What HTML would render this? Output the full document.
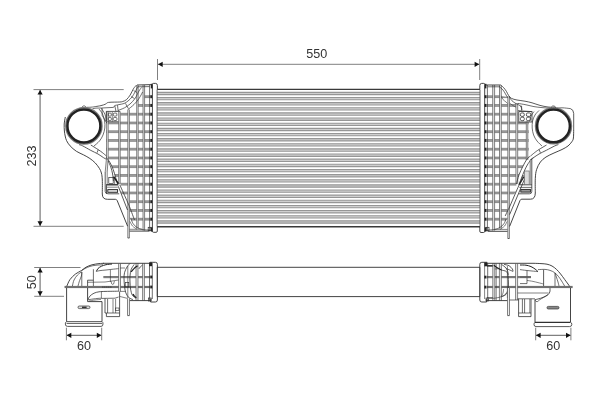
<!DOCTYPE html>
<html><head><meta charset="utf-8"><title>Intercooler drawing</title>
<style>
html,body{margin:0;padding:0;background:#fff;}
body{width:600px;height:400px;overflow:hidden;font-family:"Liberation Sans",sans-serif;}
svg{display:block;will-change:transform;}
.t{font-family:"Liberation Sans",sans-serif;font-size:12.6px;fill:#333;}
</style></head><body>
<svg width="600" height="400" viewBox="0 0 600 400">
<defs>
<clipPath id="lt"><path d="M150.5,84 L144.2,84.5 L144.2,100 L137.8,100 L137.8,108.8 L129.6,108.8 L129.6,111.4 L120.4,111.4 L120.4,121.4 L106.3,121.4 L106.3,157.5 L110,162.5 L113.2,169.5 L115.5,177 L117.5,184 L120.6,184 L121.4,194 L129.6,198 L129.6,218 L133,223.5 L137,227.5 L143,229.6 L150.5,230 Z"/></clipPath>
<clipPath id="rt"><path d="M486.5,84 L501.5,85 L501.5,96 L509.6,97.2 L512,100.8 L516,103.6 L518,110.6 L518,122 L528.6,122 L528.6,158 L526.5,159.8 L522.8,166.5 L519,174.8 L516.4,184 L516.2,191.5 L512.4,196 L507.5,198 L507.5,219 L504,223.6 L500,227.5 L494,229.6 L486.5,230 Z"/></clipPath>
</defs>
<rect width="600" height="400" fill="#fff"/>
<line x1="157.5" y1="59" x2="157.5" y2="80" stroke="#808080" stroke-width="1" />
<line x1="479.7" y1="59" x2="479.7" y2="80" stroke="#808080" stroke-width="1" />
<line x1="158" y1="64.3" x2="479" y2="64.3" stroke="#808080" stroke-width="1" />
<polygon points="158,64.3 162.7,61.7 162.7,66.9" fill="#111"/>
<polygon points="479.3,64.3 474.6,61.7 474.6,66.9" fill="#111"/>
<text x="316.8" y="57.8" text-anchor="middle" class="t">550</text>
<line x1="33.5" y1="89.6" x2="123.7" y2="89.6" stroke="#808080" stroke-width="1" />
<line x1="33.5" y1="226.3" x2="123.7" y2="226.3" stroke="#808080" stroke-width="1" />
<line x1="40.1" y1="90" x2="40.1" y2="226" stroke="#8a8a8a" stroke-width="1.4" />
<polygon points="40.1,89.9 37.5,94.6 42.7,94.6" fill="#111"/>
<polygon points="40.1,226 37.5,221.3 42.7,221.3" fill="#111"/>
<text transform="translate(35.7,155.9) rotate(-90)" text-anchor="middle" class="t">233</text>
<line x1="34.2" y1="267.5" x2="80.5" y2="267.5" stroke="#808080" stroke-width="1" />
<line x1="34.2" y1="296.3" x2="64" y2="296.3" stroke="#808080" stroke-width="1" />
<line x1="40.1" y1="268" x2="40.1" y2="296" stroke="#8a8a8a" stroke-width="1.4" />
<polygon points="40.1,267.8 37.5,272.5 42.7,272.5" fill="#111"/>
<polygon points="40.1,296 37.5,291.3 42.7,291.3" fill="#111"/>
<text transform="translate(35.8,282.2) rotate(-90)" text-anchor="middle" class="t">50</text>
<line x1="66.4" y1="327.7" x2="66.4" y2="340.3" stroke="#808080" stroke-width="1" />
<line x1="101.7" y1="327.7" x2="101.7" y2="340.3" stroke="#808080" stroke-width="1" />
<line x1="67" y1="335.3" x2="101" y2="335.3" stroke="#808080" stroke-width="1.2" />
<polygon points="66.6,335.3 71.3,332.7 71.3,337.9" fill="#111"/>
<polygon points="101.5,335.3 96.8,332.7 96.8,337.9" fill="#111"/>
<text x="83.9" y="349.6" text-anchor="middle" class="t">60</text>
<line x1="535.7" y1="327.7" x2="535.7" y2="340.3" stroke="#808080" stroke-width="1" />
<line x1="570.9" y1="327.7" x2="570.9" y2="340.3" stroke="#808080" stroke-width="1" />
<line x1="536" y1="335.3" x2="570.5" y2="335.3" stroke="#808080" stroke-width="1.2" />
<polygon points="535.9,335.3 540.6,332.7 540.6,337.9" fill="#111"/>
<polygon points="570.7,335.3 566,332.7 566,337.9" fill="#111"/>
<text x="553.2" y="349.6" text-anchor="middle" class="t">60</text>
<rect x="157.1" y="92.35" width="322.9" height="2.3" fill="#cfcfcf"/>
<line x1="157.1" y1="92.35" x2="480" y2="92.35" stroke="#969696" stroke-width="1.1" />
<line x1="157.1" y1="94.65" x2="480" y2="94.65" stroke="#969696" stroke-width="1.1" />
<rect x="157.1" y="97.49" width="322.9" height="2.3" fill="#cfcfcf"/>
<line x1="157.1" y1="97.49" x2="480" y2="97.49" stroke="#969696" stroke-width="1.1" />
<line x1="157.1" y1="99.79" x2="480" y2="99.79" stroke="#969696" stroke-width="1.1" />
<rect x="157.1" y="102.63" width="322.9" height="2.3" fill="#cfcfcf"/>
<line x1="157.1" y1="102.63" x2="480" y2="102.63" stroke="#969696" stroke-width="1.1" />
<line x1="157.1" y1="104.93" x2="480" y2="104.93" stroke="#969696" stroke-width="1.1" />
<rect x="157.1" y="107.77" width="322.9" height="2.3" fill="#cfcfcf"/>
<line x1="157.1" y1="107.77" x2="480" y2="107.77" stroke="#969696" stroke-width="1.1" />
<line x1="157.1" y1="110.07" x2="480" y2="110.07" stroke="#969696" stroke-width="1.1" />
<rect x="157.1" y="112.91" width="322.9" height="2.3" fill="#cfcfcf"/>
<line x1="157.1" y1="112.91" x2="480" y2="112.91" stroke="#969696" stroke-width="1.1" />
<line x1="157.1" y1="115.21" x2="480" y2="115.21" stroke="#969696" stroke-width="1.1" />
<rect x="157.1" y="118.05" width="322.9" height="2.3" fill="#cfcfcf"/>
<line x1="157.1" y1="118.05" x2="480" y2="118.05" stroke="#969696" stroke-width="1.1" />
<line x1="157.1" y1="120.35" x2="480" y2="120.35" stroke="#969696" stroke-width="1.1" />
<rect x="157.1" y="123.19" width="322.9" height="2.3" fill="#cfcfcf"/>
<line x1="157.1" y1="123.19" x2="480" y2="123.19" stroke="#969696" stroke-width="1.1" />
<line x1="157.1" y1="125.49" x2="480" y2="125.49" stroke="#969696" stroke-width="1.1" />
<rect x="157.1" y="128.33" width="322.9" height="2.3" fill="#cfcfcf"/>
<line x1="157.1" y1="128.33" x2="480" y2="128.33" stroke="#969696" stroke-width="1.1" />
<line x1="157.1" y1="130.63" x2="480" y2="130.63" stroke="#969696" stroke-width="1.1" />
<rect x="157.1" y="133.47" width="322.9" height="2.3" fill="#cfcfcf"/>
<line x1="157.1" y1="133.47" x2="480" y2="133.47" stroke="#969696" stroke-width="1.1" />
<line x1="157.1" y1="135.77" x2="480" y2="135.77" stroke="#969696" stroke-width="1.1" />
<rect x="157.1" y="138.61" width="322.9" height="2.3" fill="#cfcfcf"/>
<line x1="157.1" y1="138.61" x2="480" y2="138.61" stroke="#969696" stroke-width="1.1" />
<line x1="157.1" y1="140.91" x2="480" y2="140.91" stroke="#969696" stroke-width="1.1" />
<rect x="157.1" y="143.75" width="322.9" height="2.3" fill="#cfcfcf"/>
<line x1="157.1" y1="143.75" x2="480" y2="143.75" stroke="#969696" stroke-width="1.1" />
<line x1="157.1" y1="146.05" x2="480" y2="146.05" stroke="#969696" stroke-width="1.1" />
<rect x="157.1" y="148.89" width="322.9" height="2.3" fill="#cfcfcf"/>
<line x1="157.1" y1="148.89" x2="480" y2="148.89" stroke="#969696" stroke-width="1.1" />
<line x1="157.1" y1="151.19" x2="480" y2="151.19" stroke="#969696" stroke-width="1.1" />
<rect x="157.1" y="154.03" width="322.9" height="2.3" fill="#cfcfcf"/>
<line x1="157.1" y1="154.03" x2="480" y2="154.03" stroke="#969696" stroke-width="1.1" />
<line x1="157.1" y1="156.33" x2="480" y2="156.33" stroke="#969696" stroke-width="1.1" />
<rect x="157.1" y="159.17" width="322.9" height="2.3" fill="#cfcfcf"/>
<line x1="157.1" y1="159.17" x2="480" y2="159.17" stroke="#969696" stroke-width="1.1" />
<line x1="157.1" y1="161.47" x2="480" y2="161.47" stroke="#969696" stroke-width="1.1" />
<rect x="157.1" y="164.31" width="322.9" height="2.3" fill="#cfcfcf"/>
<line x1="157.1" y1="164.31" x2="480" y2="164.31" stroke="#969696" stroke-width="1.1" />
<line x1="157.1" y1="166.61" x2="480" y2="166.61" stroke="#969696" stroke-width="1.1" />
<rect x="157.1" y="169.45" width="322.9" height="2.3" fill="#cfcfcf"/>
<line x1="157.1" y1="169.45" x2="480" y2="169.45" stroke="#969696" stroke-width="1.1" />
<line x1="157.1" y1="171.75" x2="480" y2="171.75" stroke="#969696" stroke-width="1.1" />
<rect x="157.1" y="174.59" width="322.9" height="2.3" fill="#cfcfcf"/>
<line x1="157.1" y1="174.59" x2="480" y2="174.59" stroke="#969696" stroke-width="1.1" />
<line x1="157.1" y1="176.89" x2="480" y2="176.89" stroke="#969696" stroke-width="1.1" />
<rect x="157.1" y="179.73" width="322.9" height="2.3" fill="#cfcfcf"/>
<line x1="157.1" y1="179.73" x2="480" y2="179.73" stroke="#969696" stroke-width="1.1" />
<line x1="157.1" y1="182.03" x2="480" y2="182.03" stroke="#969696" stroke-width="1.1" />
<rect x="157.1" y="184.87" width="322.9" height="2.3" fill="#cfcfcf"/>
<line x1="157.1" y1="184.87" x2="480" y2="184.87" stroke="#969696" stroke-width="1.1" />
<line x1="157.1" y1="187.17" x2="480" y2="187.17" stroke="#969696" stroke-width="1.1" />
<rect x="157.1" y="190.01" width="322.9" height="2.3" fill="#cfcfcf"/>
<line x1="157.1" y1="190.01" x2="480" y2="190.01" stroke="#969696" stroke-width="1.1" />
<line x1="157.1" y1="192.31" x2="480" y2="192.31" stroke="#969696" stroke-width="1.1" />
<rect x="157.1" y="195.15" width="322.9" height="2.3" fill="#cfcfcf"/>
<line x1="157.1" y1="195.15" x2="480" y2="195.15" stroke="#969696" stroke-width="1.1" />
<line x1="157.1" y1="197.45" x2="480" y2="197.45" stroke="#969696" stroke-width="1.1" />
<rect x="157.1" y="200.29" width="322.9" height="2.3" fill="#cfcfcf"/>
<line x1="157.1" y1="200.29" x2="480" y2="200.29" stroke="#969696" stroke-width="1.1" />
<line x1="157.1" y1="202.59" x2="480" y2="202.59" stroke="#969696" stroke-width="1.1" />
<rect x="157.1" y="205.43" width="322.9" height="2.3" fill="#cfcfcf"/>
<line x1="157.1" y1="205.43" x2="480" y2="205.43" stroke="#969696" stroke-width="1.1" />
<line x1="157.1" y1="207.73" x2="480" y2="207.73" stroke="#969696" stroke-width="1.1" />
<rect x="157.1" y="210.57" width="322.9" height="2.3" fill="#cfcfcf"/>
<line x1="157.1" y1="210.57" x2="480" y2="210.57" stroke="#969696" stroke-width="1.1" />
<line x1="157.1" y1="212.87" x2="480" y2="212.87" stroke="#969696" stroke-width="1.1" />
<rect x="157.1" y="215.71" width="322.9" height="2.3" fill="#cfcfcf"/>
<line x1="157.1" y1="215.71" x2="480" y2="215.71" stroke="#969696" stroke-width="1.1" />
<line x1="157.1" y1="218.01" x2="480" y2="218.01" stroke="#969696" stroke-width="1.1" />
<rect x="157.1" y="220.85" width="322.9" height="2.3" fill="#cfcfcf"/>
<line x1="157.1" y1="220.85" x2="480" y2="220.85" stroke="#969696" stroke-width="1.1" />
<line x1="157.1" y1="223.15" x2="480" y2="223.15" stroke="#969696" stroke-width="1.1" />
<line x1="157.1" y1="89.4" x2="480" y2="89.4" stroke="#3a3a3a" stroke-width="1.3" />
<line x1="157.1" y1="226.8" x2="480" y2="226.8" stroke="#3a3a3a" stroke-width="1.5" />
<line x1="157.1" y1="89.4" x2="157.1" y2="226.6" stroke="#555" stroke-width="0.9" />
<line x1="480" y1="89.4" x2="480" y2="226.6" stroke="#555" stroke-width="0.9" />
<path d="M152.4,84.2 Q152.4,83.4 153.4,83.4 L155.6,83.4 Q157.4,83.4 157.4,85.6 L157.4,89 M152.4,84.2 L152.4,231.2 Q152.4,232.3 153.6,232.3 L156.2,232.3 Q157.3,232.3 157.3,231 L157.3,226.6" stroke="#303030" stroke-width="0.9" fill="none" />
<line x1="151.6" y1="83.8" x2="151.6" y2="88.4" stroke="#222" stroke-width="1.6" />
<line x1="151.6" y1="227.2" x2="151.6" y2="231.6" stroke="#222" stroke-width="1.6" />
<g clip-path="url(#lt)">
<rect x="104" y="95.8" width="46.5" height="1.8" fill="#a4a4a4" stroke="none"/>
<line x1="104" y1="95.8" x2="150.5" y2="95.8" stroke="#707070" stroke-width="0.7" />
<line x1="104" y1="97.6" x2="150.5" y2="97.6" stroke="#707070" stroke-width="0.7" />
<rect x="104" y="104.55" width="46.5" height="1.8" fill="#a4a4a4" stroke="none"/>
<line x1="104" y1="104.55" x2="150.5" y2="104.55" stroke="#707070" stroke-width="0.7" />
<line x1="104" y1="106.35" x2="150.5" y2="106.35" stroke="#707070" stroke-width="0.7" />
<rect x="104" y="113.3" width="46.5" height="1.8" fill="#a4a4a4" stroke="none"/>
<line x1="104" y1="113.3" x2="150.5" y2="113.3" stroke="#707070" stroke-width="0.7" />
<line x1="104" y1="115.1" x2="150.5" y2="115.1" stroke="#707070" stroke-width="0.7" />
<rect x="104" y="122.05" width="46.5" height="1.8" fill="#a4a4a4" stroke="none"/>
<line x1="104" y1="122.05" x2="150.5" y2="122.05" stroke="#707070" stroke-width="0.7" />
<line x1="104" y1="123.85" x2="150.5" y2="123.85" stroke="#707070" stroke-width="0.7" />
<rect x="104" y="130.8" width="46.5" height="1.8" fill="#a4a4a4" stroke="none"/>
<line x1="104" y1="130.8" x2="150.5" y2="130.8" stroke="#707070" stroke-width="0.7" />
<line x1="104" y1="132.6" x2="150.5" y2="132.6" stroke="#707070" stroke-width="0.7" />
<rect x="104" y="139.55" width="46.5" height="1.8" fill="#a4a4a4" stroke="none"/>
<line x1="104" y1="139.55" x2="150.5" y2="139.55" stroke="#707070" stroke-width="0.7" />
<line x1="104" y1="141.35" x2="150.5" y2="141.35" stroke="#707070" stroke-width="0.7" />
<rect x="104" y="148.3" width="46.5" height="1.8" fill="#a4a4a4" stroke="none"/>
<line x1="104" y1="148.3" x2="150.5" y2="148.3" stroke="#707070" stroke-width="0.7" />
<line x1="104" y1="150.1" x2="150.5" y2="150.1" stroke="#707070" stroke-width="0.7" />
<rect x="104" y="157.05" width="46.5" height="1.8" fill="#a4a4a4" stroke="none"/>
<line x1="104" y1="157.05" x2="150.5" y2="157.05" stroke="#707070" stroke-width="0.7" />
<line x1="104" y1="158.85" x2="150.5" y2="158.85" stroke="#707070" stroke-width="0.7" />
<rect x="104" y="165.8" width="46.5" height="1.8" fill="#a4a4a4" stroke="none"/>
<line x1="104" y1="165.8" x2="150.5" y2="165.8" stroke="#707070" stroke-width="0.7" />
<line x1="104" y1="167.6" x2="150.5" y2="167.6" stroke="#707070" stroke-width="0.7" />
<rect x="104" y="174.55" width="46.5" height="1.8" fill="#a4a4a4" stroke="none"/>
<line x1="104" y1="174.55" x2="150.5" y2="174.55" stroke="#707070" stroke-width="0.7" />
<line x1="104" y1="176.35" x2="150.5" y2="176.35" stroke="#707070" stroke-width="0.7" />
<rect x="104" y="183.3" width="46.5" height="1.8" fill="#a4a4a4" stroke="none"/>
<line x1="104" y1="183.3" x2="150.5" y2="183.3" stroke="#707070" stroke-width="0.7" />
<line x1="104" y1="185.1" x2="150.5" y2="185.1" stroke="#707070" stroke-width="0.7" />
<rect x="104" y="192.05" width="46.5" height="1.8" fill="#a4a4a4" stroke="none"/>
<line x1="104" y1="192.05" x2="150.5" y2="192.05" stroke="#707070" stroke-width="0.7" />
<line x1="104" y1="193.85" x2="150.5" y2="193.85" stroke="#707070" stroke-width="0.7" />
<rect x="104" y="200.8" width="46.5" height="1.8" fill="#a4a4a4" stroke="none"/>
<line x1="104" y1="200.8" x2="150.5" y2="200.8" stroke="#707070" stroke-width="0.7" />
<line x1="104" y1="202.6" x2="150.5" y2="202.6" stroke="#707070" stroke-width="0.7" />
<rect x="104" y="209.55" width="46.5" height="1.8" fill="#a4a4a4" stroke="none"/>
<line x1="104" y1="209.55" x2="150.5" y2="209.55" stroke="#707070" stroke-width="0.7" />
<line x1="104" y1="211.35" x2="150.5" y2="211.35" stroke="#707070" stroke-width="0.7" />
<rect x="104" y="218.3" width="46.5" height="1.8" fill="#a4a4a4" stroke="none"/>
<line x1="104" y1="218.3" x2="150.5" y2="218.3" stroke="#707070" stroke-width="0.7" />
<line x1="104" y1="220.1" x2="150.5" y2="220.1" stroke="#707070" stroke-width="0.7" />
</g>
<rect x="150.3" y="95.2" width="1.9" height="3" fill="#222"/>
<rect x="150.3" y="103.95" width="1.9" height="3" fill="#222"/>
<rect x="150.3" y="112.7" width="1.9" height="3" fill="#222"/>
<rect x="150.3" y="121.45" width="1.9" height="3" fill="#222"/>
<rect x="150.3" y="130.2" width="1.9" height="3" fill="#222"/>
<rect x="150.3" y="138.95" width="1.9" height="3" fill="#222"/>
<rect x="150.3" y="147.7" width="1.9" height="3" fill="#222"/>
<rect x="150.3" y="156.45" width="1.9" height="3" fill="#222"/>
<rect x="150.3" y="165.2" width="1.9" height="3" fill="#222"/>
<rect x="150.3" y="173.95" width="1.9" height="3" fill="#222"/>
<rect x="150.3" y="182.7" width="1.9" height="3" fill="#222"/>
<rect x="150.3" y="191.45" width="1.9" height="3" fill="#222"/>
<rect x="150.3" y="200.2" width="1.9" height="3" fill="#222"/>
<rect x="150.3" y="208.95" width="1.9" height="3" fill="#222"/>
<rect x="150.3" y="217.7" width="1.9" height="3" fill="#222"/>
<line x1="149.6" y1="85" x2="149.6" y2="231" stroke="#303030" stroke-width="0.7" />
<rect x="143" y="85" width="1.6" height="145.6" fill="#ececec" stroke="none"/>
<line x1="143" y1="85" x2="143" y2="230.6" stroke="#505050" stroke-width="0.7" />
<line x1="144.6" y1="85" x2="144.6" y2="230.6" stroke="#505050" stroke-width="0.7" />
<rect x="136.7" y="85.3" width="1.5" height="143.2" fill="#ececec" stroke="none"/>
<line x1="136.7" y1="85.3" x2="136.7" y2="228.5" stroke="#505050" stroke-width="0.7" />
<line x1="138.2" y1="85.3" x2="138.2" y2="228.5" stroke="#505050" stroke-width="0.7" />
<rect x="127.8" y="109.5" width="1.6" height="128.5" fill="#ececec" stroke="none"/>
<line x1="127.8" y1="109.5" x2="127.8" y2="238" stroke="#505050" stroke-width="0.7" />
<line x1="129.4" y1="109.5" x2="129.4" y2="238" stroke="#505050" stroke-width="0.7" />
<line x1="127.8" y1="238" x2="129.4" y2="238" stroke="#303030" stroke-width="0.8" />
<rect x="118.7" y="112" width="1.5" height="71" fill="#ececec" stroke="none"/>
<line x1="118.7" y1="112" x2="118.7" y2="183" stroke="#505050" stroke-width="0.7" />
<line x1="120.2" y1="112" x2="120.2" y2="183" stroke="#505050" stroke-width="0.7" />
<path d="M106.7,112 L106.5,158 L105.2,172 L107.2,172 L108.2,158 L108.2,112 Z" fill="#ececec" stroke="none"/>
<path d="M106.7,111.4 L106.5,158 L105.2,172" stroke="#505050" stroke-width="0.7" fill="none" />
<path d="M108.2,111.4 L108.2,158 L107.2,172 L107.2,184" stroke="#505050" stroke-width="0.7" fill="none" />
<path d="M137,85 L152,84.6" stroke="#303030" stroke-width="0.9" fill="none" />
<path d="M137.5,86.8 L149.5,86.6" stroke="#303030" stroke-width="0.7" fill="none" />
<path d="M136.6,85 C136.07,85.63 134.47,87.13 133.4,88.8 C132.33,90.47 131.35,93.2 130.2,95 C129.05,96.8 127.7,98.53 126.5,99.6 C125.3,100.67 124.12,101 123,101.4 C121.88,101.8 122.2,101.83 119.8,102 C117.4,102.17 111,102.03 108.6,102.4 C106.2,102.77 106.67,103.67 105.4,104.2 C104.13,104.73 102.57,105.22 101,105.6 C99.43,105.98 96.83,106.35 96,106.5" stroke="#303030" stroke-width="0.8" fill="none" />
<path d="M138,86.5 C137.5,87.42 136,90.25 135,92 C134,93.75 133.17,95.5 132,97 C130.83,98.5 129.33,99.92 128,101 C126.67,102.08 125.5,102.9 124,103.5 C122.5,104.1 120.53,104.27 119,104.6 C117.47,104.93 115.5,105.35 114.8,105.5" stroke="#303030" stroke-width="0.7" fill="none" />
<path d="M141.5,87.5 C141.08,88.08 140.08,89.17 139,91 C137.92,92.83 136.5,96.33 135,98.5 C133.5,100.67 131.75,102.45 130,104 C128.25,105.55 126.5,106.72 124.5,107.8 C122.5,108.88 119.08,110.05 118,110.5" stroke="#303030" stroke-width="0.7" fill="none" />
<path d="M142.6,92 C142,93.08 140.43,96.42 139,98.5 C137.57,100.58 135.83,102.67 134,104.5 C132.17,106.33 129,108.67 128,109.5" stroke="#303030" stroke-width="0.7" fill="none" />
<line x1="131.2" y1="96.6" x2="134.6" y2="98.6" stroke="#303030" stroke-width="0.7" />
<line x1="125.5" y1="103.4" x2="128.3" y2="108.5" stroke="#303030" stroke-width="0.7" />
<line x1="133.5" y1="90.5" x2="137" y2="92.5" stroke="#303030" stroke-width="0.6" />
<path d="M96,106.5 C95.17,106.62 92.58,107.07 91,107.2 C89.42,107.33 87.25,107.28 86.5,107.3" stroke="#303030" stroke-width="0.7" fill="none" />
<path d="M114.8,105.5 L113.5,107.4 L101.6,108 L96,108.1 L92.5,108.6" stroke="#303030" stroke-width="0.7" fill="none" />
<path d="M106.3,121.6 L106.3,111.4 L120.4,111.4" stroke="#303030" stroke-width="0.8" fill="none" />
<path d="M102,108 L102.2,115.5 L106.8,123" stroke="#303030" stroke-width="0.7" fill="none" />
<path d="M114.8,105.8 L116,111.4" stroke="#303030" stroke-width="0.7" fill="none" />
<path d="M117.5,105.2 L118.2,111.4" stroke="#303030" stroke-width="0.7" fill="none" />
<rect x="108.3" y="113.1" width="3" height="3" stroke="#303030" stroke-width="0.7" fill="none" rx="0.9"/>
<rect x="108.3" y="117.5" width="3" height="3" stroke="#303030" stroke-width="0.7" fill="none" rx="0.9"/>
<rect x="113.3" y="113.1" width="3.6" height="3" stroke="#303030" stroke-width="0.7" fill="none" rx="0.9"/>
<rect x="113.3" y="117.5" width="3.6" height="3" stroke="#303030" stroke-width="0.7" fill="none" rx="0.9"/>
<line x1="112.3" y1="112" x2="112.3" y2="121.6" stroke="#303030" stroke-width="0.6" />
<line x1="107.4" y1="121.6" x2="118.4" y2="121.6" stroke="#303030" stroke-width="0.6" />
<circle cx="83.9" cy="125.9" r="18.1" fill="#fff" stroke="#7a7a7a" stroke-width="1.4"/>
<circle cx="83.9" cy="125.9" r="16.5" fill="#fff" stroke="#222" stroke-width="2.5"/>
<path d="M81.8,107.3 L83.2,106 L84.8,106 L86.2,107.3" stroke="#303030" stroke-width="0.7" fill="none" />
<path d="M99,109 C99.58,109.83 101.57,112 102.5,114 C103.43,116 104.22,118.67 104.6,121 C104.98,123.33 105.07,125.67 104.8,128 C104.53,130.33 103.88,132.83 103,135 C102.12,137.17 101,139.17 99.5,141 C98,142.83 94.92,145.17 94,146" stroke="#303030" stroke-width="0.7" fill="none" />
<path d="M101.3,108.3 C101.92,109.33 104.17,112.38 105,114.5 C105.83,116.62 106.08,119.92 106.3,121" stroke="#303030" stroke-width="0.7" fill="none" />
<path d="M65.3,117 C65.12,118.17 64.35,121.67 64.2,124 C64.05,126.33 64.23,129 64.4,131 C64.57,133 64.85,134.42 65.2,136 C65.55,137.58 65.68,138.85 66.5,140.5 C67.32,142.15 68.45,144.1 70.1,145.9 C71.75,147.7 74.15,149.8 76.4,151.3 C78.65,152.8 81.35,153.7 83.6,154.9 C85.85,156.1 87.95,157.15 89.9,158.5 C91.85,159.85 93.72,161.35 95.3,163 C96.88,164.65 98.38,166.73 99.4,168.4 C100.42,170.07 100.92,171.07 101.4,173 C101.88,174.93 102.15,176.5 102.3,180 C102.45,183.5 102.3,191.67 102.3,194" stroke="#303030" stroke-width="0.9" fill="none" />
<path d="M79,144.6 C79.62,144.82 80.73,144.93 82.7,145.9 C84.67,146.87 88.25,149.05 90.8,150.4 C93.35,151.75 95.9,152.8 98,154 C100.1,155.2 102.02,156.73 103.4,157.6 C104.78,158.47 105.82,158.93 106.3,159.2" stroke="#303030" stroke-width="0.8" fill="none" />
<path d="M90.8,145 C92,145.75 96.05,148.22 98,149.5 C99.95,150.78 101.12,151.63 102.5,152.7 C103.88,153.77 105.67,155.37 106.3,155.9" stroke="#303030" stroke-width="0.8" fill="none" />
<line x1="98.2" y1="149.8" x2="97" y2="152.8" stroke="#303030" stroke-width="0.7" />
<path d="M106.3,157.5 C106.92,158.33 108.85,160.5 110,162.5 C111.15,164.5 112.28,167.08 113.2,169.5 C114.12,171.92 114.78,174.58 115.5,177 C116.22,179.42 117.17,182.83 117.5,184" stroke="#303030" stroke-width="0.8" fill="none" />
<path d="M108.2,161 C108.63,162 110.07,164.83 110.8,167 C111.53,169.17 112.17,171.67 112.6,174 C113.03,176.33 113.27,179.83 113.4,181" stroke="#303030" stroke-width="0.8" fill="none" />
<path d="M102.3,194 Q102.3,199.3 107.4,199.3 L115.4,199.3 Q116.6,199.3 117.2,200.6 L127.6,226.2" stroke="#303030" stroke-width="0.9" fill="none" />
<path d="M105.2,172 L105.2,191.4 Q105.2,193.8 108,193.8 L119.2,193.8" stroke="#303030" stroke-width="0.8" fill="none" />
<path d="M119.8,184.8 C121.08,187.67 125.8,198.13 127.5,202 C129.2,205.87 128.83,205 130,208 C131.17,211 133.75,218 134.5,220" stroke="#303030" stroke-width="0.8" fill="none" />
<line x1="118.3" y1="186.3" x2="127.5" y2="210" stroke="#303030" stroke-width="0.8" />
<line x1="106.5" y1="184" x2="106.5" y2="193.6" stroke="#303030" stroke-width="0.8" />
<line x1="107" y1="184.8" x2="118.4" y2="184.8" stroke="#222" stroke-width="1.3" />
<rect x="107.8" y="189.6" width="9.8" height="2.7" stroke="#222" stroke-width="0.9" fill="#ddd" rx="0"/>
<line x1="107" y1="187.2" x2="117.8" y2="187.2" stroke="#303030" stroke-width="0.6" />
<rect x="108.8" y="177.5" width="4.4" height="6" stroke="#303030" stroke-width="0.7" fill="none" rx="0"/>
<path d="M113.6,176.6 L118.4,183.6" stroke="#1a1a1a" stroke-width="1.6" fill="none" />
<line x1="114.6" y1="178" x2="114.6" y2="184" stroke="#303030" stroke-width="0.6" />
<path d="M129.6,231.1 L149.5,231.1" stroke="#303030" stroke-width="0.9" fill="none" />
<path d="M129.6,229.3 L142,229.3" stroke="#303030" stroke-width="0.6" fill="none" />
<path d="M131,218.5 C131.33,219.33 132,222 133,223.5 C134,225 135.33,226.48 137,227.5 C138.67,228.52 140.92,229.18 143,229.6 C145.08,230.02 148.42,229.93 149.5,230" stroke="#303030" stroke-width="0.7" fill="none" />
<path d="M130,221.5 C130.42,222.25 131.33,224.7 132.5,226 C133.67,227.3 136.25,228.75 137,229.3" stroke="#303030" stroke-width="0.6" fill="none" />
<rect x="148.2" y="227.3" width="2.6" height="3.4" stroke="#303030" stroke-width="0.7" fill="none" rx="0"/>
<path d="M484.7,84.2 Q484.7,83.4 483.7,83.4 L481.6,83.4 Q479.8,83.4 479.8,85.6 L479.8,89 M484.7,84.2 L484.7,231.2 Q484.7,232.5 483.5,232.5 L480.9,232.5 Q479.8,232.5 479.8,231 L479.8,226.6" stroke="#303030" stroke-width="0.9" fill="none" />
<line x1="485.6" y1="83.8" x2="485.6" y2="88.4" stroke="#222" stroke-width="1.6" />
<line x1="485.6" y1="227.2" x2="485.6" y2="231.6" stroke="#222" stroke-width="1.6" />
<g clip-path="url(#rt)">
<rect x="486.5" y="95.8" width="47.5" height="1.8" fill="#a4a4a4" stroke="none"/>
<line x1="486.5" y1="95.8" x2="534" y2="95.8" stroke="#707070" stroke-width="0.7" />
<line x1="486.5" y1="97.6" x2="534" y2="97.6" stroke="#707070" stroke-width="0.7" />
<rect x="486.5" y="104.55" width="47.5" height="1.8" fill="#a4a4a4" stroke="none"/>
<line x1="486.5" y1="104.55" x2="534" y2="104.55" stroke="#707070" stroke-width="0.7" />
<line x1="486.5" y1="106.35" x2="534" y2="106.35" stroke="#707070" stroke-width="0.7" />
<rect x="486.5" y="113.3" width="47.5" height="1.8" fill="#a4a4a4" stroke="none"/>
<line x1="486.5" y1="113.3" x2="534" y2="113.3" stroke="#707070" stroke-width="0.7" />
<line x1="486.5" y1="115.1" x2="534" y2="115.1" stroke="#707070" stroke-width="0.7" />
<rect x="486.5" y="122.05" width="47.5" height="1.8" fill="#a4a4a4" stroke="none"/>
<line x1="486.5" y1="122.05" x2="534" y2="122.05" stroke="#707070" stroke-width="0.7" />
<line x1="486.5" y1="123.85" x2="534" y2="123.85" stroke="#707070" stroke-width="0.7" />
<rect x="486.5" y="130.8" width="47.5" height="1.8" fill="#a4a4a4" stroke="none"/>
<line x1="486.5" y1="130.8" x2="534" y2="130.8" stroke="#707070" stroke-width="0.7" />
<line x1="486.5" y1="132.6" x2="534" y2="132.6" stroke="#707070" stroke-width="0.7" />
<rect x="486.5" y="139.55" width="47.5" height="1.8" fill="#a4a4a4" stroke="none"/>
<line x1="486.5" y1="139.55" x2="534" y2="139.55" stroke="#707070" stroke-width="0.7" />
<line x1="486.5" y1="141.35" x2="534" y2="141.35" stroke="#707070" stroke-width="0.7" />
<rect x="486.5" y="148.3" width="47.5" height="1.8" fill="#a4a4a4" stroke="none"/>
<line x1="486.5" y1="148.3" x2="534" y2="148.3" stroke="#707070" stroke-width="0.7" />
<line x1="486.5" y1="150.1" x2="534" y2="150.1" stroke="#707070" stroke-width="0.7" />
<rect x="486.5" y="157.05" width="47.5" height="1.8" fill="#a4a4a4" stroke="none"/>
<line x1="486.5" y1="157.05" x2="534" y2="157.05" stroke="#707070" stroke-width="0.7" />
<line x1="486.5" y1="158.85" x2="534" y2="158.85" stroke="#707070" stroke-width="0.7" />
<rect x="486.5" y="165.8" width="47.5" height="1.8" fill="#a4a4a4" stroke="none"/>
<line x1="486.5" y1="165.8" x2="534" y2="165.8" stroke="#707070" stroke-width="0.7" />
<line x1="486.5" y1="167.6" x2="534" y2="167.6" stroke="#707070" stroke-width="0.7" />
<rect x="486.5" y="174.55" width="47.5" height="1.8" fill="#a4a4a4" stroke="none"/>
<line x1="486.5" y1="174.55" x2="534" y2="174.55" stroke="#707070" stroke-width="0.7" />
<line x1="486.5" y1="176.35" x2="534" y2="176.35" stroke="#707070" stroke-width="0.7" />
<rect x="486.5" y="183.3" width="47.5" height="1.8" fill="#a4a4a4" stroke="none"/>
<line x1="486.5" y1="183.3" x2="534" y2="183.3" stroke="#707070" stroke-width="0.7" />
<line x1="486.5" y1="185.1" x2="534" y2="185.1" stroke="#707070" stroke-width="0.7" />
<rect x="486.5" y="192.05" width="47.5" height="1.8" fill="#a4a4a4" stroke="none"/>
<line x1="486.5" y1="192.05" x2="534" y2="192.05" stroke="#707070" stroke-width="0.7" />
<line x1="486.5" y1="193.85" x2="534" y2="193.85" stroke="#707070" stroke-width="0.7" />
<rect x="486.5" y="200.8" width="47.5" height="1.8" fill="#a4a4a4" stroke="none"/>
<line x1="486.5" y1="200.8" x2="534" y2="200.8" stroke="#707070" stroke-width="0.7" />
<line x1="486.5" y1="202.6" x2="534" y2="202.6" stroke="#707070" stroke-width="0.7" />
<rect x="486.5" y="209.55" width="47.5" height="1.8" fill="#a4a4a4" stroke="none"/>
<line x1="486.5" y1="209.55" x2="534" y2="209.55" stroke="#707070" stroke-width="0.7" />
<line x1="486.5" y1="211.35" x2="534" y2="211.35" stroke="#707070" stroke-width="0.7" />
<rect x="486.5" y="218.3" width="47.5" height="1.8" fill="#a4a4a4" stroke="none"/>
<line x1="486.5" y1="218.3" x2="534" y2="218.3" stroke="#707070" stroke-width="0.7" />
<line x1="486.5" y1="220.1" x2="534" y2="220.1" stroke="#707070" stroke-width="0.7" />
</g>
<rect x="484.6" y="95.2" width="1.9" height="3" fill="#222"/>
<rect x="484.6" y="103.95" width="1.9" height="3" fill="#222"/>
<rect x="484.6" y="112.7" width="1.9" height="3" fill="#222"/>
<rect x="484.6" y="121.45" width="1.9" height="3" fill="#222"/>
<rect x="484.6" y="130.2" width="1.9" height="3" fill="#222"/>
<rect x="484.6" y="138.95" width="1.9" height="3" fill="#222"/>
<rect x="484.6" y="147.7" width="1.9" height="3" fill="#222"/>
<rect x="484.6" y="156.45" width="1.9" height="3" fill="#222"/>
<rect x="484.6" y="165.2" width="1.9" height="3" fill="#222"/>
<rect x="484.6" y="173.95" width="1.9" height="3" fill="#222"/>
<rect x="484.6" y="182.7" width="1.9" height="3" fill="#222"/>
<rect x="484.6" y="191.45" width="1.9" height="3" fill="#222"/>
<rect x="484.6" y="200.2" width="1.9" height="3" fill="#222"/>
<rect x="484.6" y="208.95" width="1.9" height="3" fill="#222"/>
<rect x="484.6" y="217.7" width="1.9" height="3" fill="#222"/>
<line x1="487.4" y1="85" x2="487.4" y2="231" stroke="#303030" stroke-width="0.7" />
<rect x="492.7" y="85" width="1.9" height="145.6" fill="#ececec" stroke="none"/>
<line x1="492.7" y1="85" x2="492.7" y2="230.6" stroke="#505050" stroke-width="0.7" />
<line x1="494.6" y1="85" x2="494.6" y2="230.6" stroke="#505050" stroke-width="0.7" />
<rect x="499.5" y="85.3" width="1.8" height="143.2" fill="#ececec" stroke="none"/>
<line x1="499.5" y1="85.3" x2="499.5" y2="228.5" stroke="#505050" stroke-width="0.7" />
<line x1="501.3" y1="85.3" x2="501.3" y2="228.5" stroke="#505050" stroke-width="0.7" />
<rect x="507.8" y="96" width="1.6" height="142.5" fill="#ececec" stroke="none"/>
<line x1="507.8" y1="96" x2="507.8" y2="238.5" stroke="#505050" stroke-width="0.7" />
<line x1="509.4" y1="96" x2="509.4" y2="238.5" stroke="#505050" stroke-width="0.7" />
<line x1="507.8" y1="238.5" x2="509.4" y2="238.5" stroke="#303030" stroke-width="0.8" />
<rect x="515.9" y="103" width="1.8" height="81" fill="#ececec" stroke="none"/>
<line x1="515.9" y1="103" x2="515.9" y2="184" stroke="#505050" stroke-width="0.7" />
<line x1="517.7" y1="103" x2="517.7" y2="184" stroke="#505050" stroke-width="0.7" />
<rect x="526.3" y="121.5" width="1.5" height="38.5" fill="#ececec" stroke="none"/>
<line x1="526.3" y1="121.5" x2="526.3" y2="160" stroke="#505050" stroke-width="0.7" />
<line x1="527.8" y1="121.5" x2="527.8" y2="160" stroke="#505050" stroke-width="0.7" />
<path d="M485,85 L500.5,85" stroke="#303030" stroke-width="0.9" fill="none" />
<path d="M487.6,86.8 L500,86.8" stroke="#303030" stroke-width="0.7" fill="none" />
<path d="M500.5,85 C501,85.42 502.5,86.42 503.5,87.5 C504.5,88.58 505.65,90.17 506.5,91.5 C507.35,92.83 507.77,94.35 508.6,95.5 C509.43,96.65 510.1,97.65 511.5,98.4 C512.9,99.15 514.75,99.53 517,100 C519.25,100.47 522.5,100.73 525,101.2 C527.5,101.67 529.5,102.1 532,102.8 C534.5,103.5 537.33,104.7 540,105.4 C542.67,106.1 545.33,106.68 548,107 C550.67,107.32 554.67,107.25 556,107.3" stroke="#303030" stroke-width="0.8" fill="none" />
<path d="M499.5,86.8 C500.08,87.33 502,88.8 503,90 C504,91.2 504.75,92.75 505.5,94 C506.25,95.25 507.17,96.92 507.5,97.5" stroke="#303030" stroke-width="0.7" fill="none" />
<path d="M509.6,97.2 C510,97.8 510.93,99.73 512,100.8 C513.07,101.87 514.58,102.73 516,103.6 C517.42,104.47 519.5,104.93 520.5,106 C521.5,107.07 521.75,109.33 522,110" stroke="#303030" stroke-width="0.7" fill="none" />
<path d="M501.5,96.6 C501.75,97.08 502.25,98.6 503,99.5 C503.75,100.4 505.25,101.33 506,102 C506.75,102.67 507.25,103.25 507.5,103.5" stroke="#303030" stroke-width="0.6" fill="none" />
<path d="M509.6,103 C510.17,103.43 511.93,104.9 513,105.6 C514.07,106.3 515.5,106.93 516,107.2" stroke="#303030" stroke-width="0.6" fill="none" />
<path d="M518,103.4 C519.33,103.63 523.33,104.27 526,104.8 C528.67,105.33 531.33,106.13 534,106.6 C536.67,107.07 539,107.33 542,107.6 C545,107.87 548.67,108.17 552,108.2 C555.33,108.23 558.93,107.73 562,107.8 C565.07,107.87 569,108.47 570.4,108.6" stroke="#303030" stroke-width="0.7" fill="none" />
<path d="M570.4,108.6 Q573.6,109.6 573.7,113.5 L573.7,130" stroke="#303030" stroke-width="0.8" fill="none" />
<path d="M520.2,106 L521.6,106 L521.6,110.6" stroke="#303030" stroke-width="0.7" fill="none" />
<path d="M518,110.6 L531.6,111.6" stroke="#303030" stroke-width="0.7" fill="none" />
<rect x="518.8" y="111.6" width="13.2" height="10.4" stroke="#303030" stroke-width="0.8" fill="none" rx="0"/>
<rect x="520.4" y="112.9" width="3.9" height="3.5" stroke="#303030" stroke-width="0.8" fill="none" rx="1.4"/>
<rect x="520.4" y="117.2" width="3.9" height="3.5" stroke="#303030" stroke-width="0.8" fill="none" rx="1.4"/>
<rect x="526.4" y="112.9" width="4.3" height="3.5" stroke="#303030" stroke-width="0.8" fill="none" rx="1.4"/>
<rect x="526.4" y="117.2" width="4.3" height="3.5" stroke="#303030" stroke-width="0.8" fill="none" rx="1.4"/>
<circle cx="553.5" cy="125.9" r="18.0" fill="#fff" stroke="#7a7a7a" stroke-width="1.4"/>
<circle cx="553.5" cy="125.9" r="16.4" fill="#fff" stroke="#222" stroke-width="2.5"/>
<path d="M551.2,107.3 L552.6,106 L554.2,106 L555.6,107.3" stroke="#303030" stroke-width="0.7" fill="none" />
<path d="M539,110.5 C538.33,111.25 536.07,113.25 535,115 C533.93,116.75 533.07,118.83 532.6,121 C532.13,123.17 532.03,125.67 532.2,128 C532.37,130.33 532.8,132.83 533.6,135 C534.4,137.17 535.6,139.17 537,141 C538.4,142.83 541.17,145.17 542,146" stroke="#303030" stroke-width="0.7" fill="none" />
<path d="M534,111.6 C533.5,112.33 531.73,114.35 531,116 C530.27,117.65 529.83,120.58 529.6,121.5" stroke="#303030" stroke-width="0.7" fill="none" />
<path d="M573.7,130 C573.65,131.33 573.68,136.08 573.4,138 C573.12,139.92 572.9,140.17 572,141.5 C571.1,142.83 569.67,144.67 568,146 C566.33,147.33 564.33,148.33 562,149.5 C559.67,150.67 556.67,151.75 554,153 C551.33,154.25 548.27,155.5 546,157 C543.73,158.5 541.97,159.92 540.4,162 C538.83,164.08 537.45,166.75 536.6,169.5 C535.75,172.25 535.52,174.58 535.3,178.5 C535.08,182.42 535.3,190.58 535.3,193" stroke="#303030" stroke-width="0.9" fill="none" />
<path d="M558.4,144.6 C557.8,144.82 556.78,144.97 554.8,145.9 C552.82,146.83 549.13,148.85 546.5,150.2 C543.87,151.55 541.15,152.77 539,154 C536.85,155.23 535.12,156.6 533.6,157.6 C532.08,158.6 530.52,159.6 529.9,160" stroke="#303030" stroke-width="0.8" fill="none" />
<path d="M546.5,145 C545.25,145.75 541,148.22 539,149.5 C537,150.78 535.9,151.62 534.5,152.7 C533.1,153.78 531.25,155.45 530.6,156" stroke="#303030" stroke-width="0.8" fill="none" />
<line x1="539.2" y1="149.8" x2="540.4" y2="152.8" stroke="#303030" stroke-width="0.7" />
<path d="M530.2,156 C529.58,156.63 527.73,158.05 526.5,159.8 C525.27,161.55 524.05,164 522.8,166.5 C521.55,169 520.07,171.88 519,174.8 C517.93,177.72 516.83,182.47 516.4,184" stroke="#303030" stroke-width="0.8" fill="none" />
<path d="M533.6,157.6 C533.17,157.97 532.05,158.57 531,159.8 C529.95,161.03 528.42,163.13 527.3,165 C526.18,166.87 525.3,168.75 524.3,171 C523.3,173.25 522.22,176.17 521.3,178.5 C520.38,180.83 519.22,183.92 518.8,185" stroke="#303030" stroke-width="0.8" fill="none" />
<rect x="530.2" y="160" width="1.6" height="24" fill="#ececec"/>
<line x1="530.2" y1="160" x2="530.2" y2="184" stroke="#505050" stroke-width="0.7" />
<line x1="531.8" y1="159" x2="531.8" y2="191.4" stroke="#303030" stroke-width="0.8" />
<path d="M535.3,193 Q535.3,199.2 530.4,199.2 L521.8,199.2 Q520.6,199.2 520,200.5 L509.6,226.4" stroke="#303030" stroke-width="0.9" fill="none" />
<path d="M531.8,191.4 Q531.8,193.8 529.4,193.8 L518.4,193.8 L509.6,214.6" stroke="#303030" stroke-width="0.8" fill="none" />
<path d="M523.4,175 C522.17,177.83 518.3,186.7 516,192 C513.7,197.3 511.02,203.63 509.6,206.8 C508.18,209.97 508.23,209.47 507.5,211 C506.77,212.53 505.58,215.17 505.2,216" stroke="#303030" stroke-width="0.8" fill="none" />
<line x1="524.8" y1="178.4" x2="518.4" y2="193.8" stroke="#303030" stroke-width="0.8" />
<rect x="520.8" y="189.4" width="9.6" height="2.7" stroke="#222" stroke-width="0.9" fill="#999" rx="0"/>
<line x1="519.4" y1="187.4" x2="531.8" y2="187.4" stroke="#303030" stroke-width="0.7" />
<line x1="519.6" y1="184.8" x2="531.8" y2="184.8" stroke="#303030" stroke-width="0.9" />
<rect x="524.6" y="171" width="4.6" height="13.6" stroke="#666" stroke-width="0.7" fill="#ddd" rx="0"/>
<path d="M524,176.6 L519.4,184.4" stroke="#222" stroke-width="1.1" fill="none" />
<path d="M487.6,231.3 L507.5,231.3" stroke="#303030" stroke-width="0.9" fill="none" />
<path d="M495,229.4 L507.5,229.4" stroke="#303030" stroke-width="0.6" fill="none" />
<path d="M506,219 C505.67,219.77 505,222.18 504,223.6 C503,225.02 501.67,226.5 500,227.5 C498.33,228.5 496.07,229.18 494,229.6 C491.93,230.02 488.67,229.93 487.6,230" stroke="#303030" stroke-width="0.7" fill="none" />
<path d="M507,221.5 C506.6,222.25 505.77,224.68 504.6,226 C503.43,227.32 500.77,228.83 500,229.4" stroke="#303030" stroke-width="0.6" fill="none" />
<rect x="486.4" y="227.3" width="2.6" height="3.4" stroke="#303030" stroke-width="0.7" fill="none" rx="0"/>
<line x1="157.1" y1="267.3" x2="480" y2="267.3" stroke="#444" stroke-width="1.0" />
<line x1="157.1" y1="296.6" x2="480" y2="296.6" stroke="#444" stroke-width="1.0" />
<line x1="157.2" y1="267.3" x2="157.2" y2="296.6" stroke="#555" stroke-width="0.9" />
<line x1="479.9" y1="267.3" x2="479.9" y2="296.6" stroke="#555" stroke-width="0.9" />
<path d="M150,262.3 L155.4,262.3 Q157.4,262.3 157.4,264.3 L157.4,300 Q157.4,302 155.4,302 L150.6,302 L150.6,298.6" stroke="#303030" stroke-width="0.9" fill="none" />
<line x1="152.3" y1="263" x2="152.3" y2="299" stroke="#303030" stroke-width="0.7" />
<rect x="149" y="262.4" width="3" height="3.8" fill="#222"/>
<rect x="150.2" y="275.6" width="2.1" height="2.8" fill="#222"/>
<rect x="150.2" y="285.6" width="2.1" height="2.8" fill="#222"/>
<rect x="148.6" y="298" width="2.6" height="3" stroke="#303030" stroke-width="0.7" fill="none" rx="0"/>
<rect x="103.4" y="276.5" width="46.8" height="1.2" fill="#999" stroke="none"/>
<line x1="103.4" y1="276.5" x2="150.2" y2="276.5" stroke="#555" stroke-width="0.7" />
<line x1="103.4" y1="277.7" x2="150.2" y2="277.7" stroke="#555" stroke-width="0.7" />
<rect x="64.6" y="286.4" width="85.6" height="1.2" fill="#999" stroke="none"/>
<line x1="64.6" y1="286.4" x2="150.2" y2="286.4" stroke="#4a4a4a" stroke-width="0.75" />
<line x1="64.6" y1="287.6" x2="150.2" y2="287.6" stroke="#4a4a4a" stroke-width="0.75" />
<line x1="149.5" y1="263.3" x2="149.5" y2="300.5" stroke="#303030" stroke-width="0.7" />
<rect x="142.6" y="263.3" width="1.8" height="37.2" fill="#ececec" stroke="none"/>
<line x1="142.6" y1="263.3" x2="142.6" y2="300.5" stroke="#505050" stroke-width="0.7" />
<line x1="144.4" y1="263.3" x2="144.4" y2="300.5" stroke="#505050" stroke-width="0.7" />
<rect x="136" y="263.3" width="2" height="37.2" fill="#ececec" stroke="none"/>
<line x1="136" y1="263.3" x2="136" y2="300.5" stroke="#505050" stroke-width="0.7" />
<line x1="138" y1="263.3" x2="138" y2="300.5" stroke="#505050" stroke-width="0.7" />
<rect x="118.6" y="263.8" width="1.9" height="27.7" fill="#ececec" stroke="none"/>
<line x1="118.6" y1="263.8" x2="118.6" y2="291.5" stroke="#505050" stroke-width="0.7" />
<line x1="120.5" y1="263.8" x2="120.5" y2="291.5" stroke="#505050" stroke-width="0.7" />
<line x1="127.8" y1="266" x2="127.8" y2="298" stroke="#303030" stroke-width="0.6" />
<line x1="103" y1="263.3" x2="150" y2="263.3" stroke="#303030" stroke-width="0.9" />
<path d="M66.8,286.2 C67.33,285.08 68.55,281.53 70,279.5 C71.45,277.47 73.58,275.5 75.5,274 C77.42,272.5 79.75,271.63 81.5,270.5 C83.25,269.37 84.25,268.15 86,267.2 C87.75,266.25 89.83,265.4 92,264.8 C94.17,264.2 97,263.85 99,263.6 C101,263.35 103.17,263.35 104,263.3" stroke="#303030" stroke-width="0.9" fill="none" />
<path d="M72.4,286 C72.67,285 73.15,281.83 74,280 C74.85,278.17 76.23,276.37 77.5,275 C78.77,273.63 80.92,272.33 81.6,271.8" stroke="#303030" stroke-width="0.7" fill="none" />
<path d="M78,286 C78.27,285.08 79.03,282.17 79.6,280.5 C80.17,278.83 81.03,277.42 81.4,276 C81.77,274.58 81.73,272.67 81.8,272" stroke="#303030" stroke-width="0.7" fill="none" />
<line x1="81.8" y1="272" x2="81.8" y2="286" stroke="#303030" stroke-width="0.7" />
<path d="M81.5,270.8 C82.08,270.42 83.58,269.23 85,268.5 C86.42,267.77 88.17,266.95 90,266.4 C91.83,265.85 93.83,265.47 96,265.2 C98.17,264.93 101.83,264.87 103,264.8" stroke="#303030" stroke-width="0.7" fill="none" />
<path d="M96.4,271.4 C96.67,270.92 97.15,269.37 98,268.5 C98.85,267.63 100.17,266.83 101.5,266.2 C102.83,265.57 104.25,265.07 106,264.7 C107.75,264.33 111,264.12 112,264" stroke="#222" stroke-width="1.0" fill="none" />
<path d="M96.4,271.4 C97,271.27 98.4,270.83 100,270.6 C101.6,270.37 104,270.22 106,270 C108,269.78 109.9,269.53 112,269.3 C114.1,269.07 117.5,268.72 118.6,268.6" stroke="#303030" stroke-width="0.7" fill="none" />
<line x1="93.4" y1="269.2" x2="93.4" y2="286" stroke="#303030" stroke-width="0.7" />
<path d="M87.6,286 L87.6,280.2 L93.4,280.2" stroke="#303030" stroke-width="0.8" fill="none" />
<path d="M87.6,282.3 L105,282 L112,281 L118.6,280" stroke="#303030" stroke-width="0.6" fill="none" />
<line x1="110.4" y1="270" x2="110.4" y2="282" stroke="#303030" stroke-width="0.6" />
<path d="M111,281.2 L111.8,284 Q112.6,285 113.6,284 L114.4,281" stroke="#303030" stroke-width="0.6" fill="none" />
<rect x="102.3" y="286.5" width="1.1" height="1.1" fill="#333"/>
<rect x="104.3" y="286.5" width="1.1" height="1.1" fill="#333"/>
<rect x="106.3" y="286.5" width="1.1" height="1.1" fill="#333"/>
<rect x="108.3" y="286.5" width="1.1" height="1.1" fill="#333"/>
<rect x="110.3" y="286.5" width="1.1" height="1.1" fill="#333"/>
<line x1="66.6" y1="288" x2="66.6" y2="321.5" stroke="#303030" stroke-width="0.9" />
<line x1="102" y1="301.6" x2="102" y2="321.5" stroke="#303030" stroke-width="0.9" />
<path d="M66.6,321.6 L102,321.6 M66.6,323.4 L102,323.4 M66.6,321.6 Q65.3,322 65.3,324 Q65.3,326.4 67.6,326.4 L101,326.4 Q103,326.4 103,324 Q103,322 102,321.6" stroke="#303030" stroke-width="0.8" fill="none" />
<rect x="78" y="306" width="12" height="2.6" stroke="#303030" stroke-width="0.7" fill="#ddd" rx="1.3"/>
<rect x="82" y="306.6" width="4.6" height="1.4" fill="#333"/>
<path d="M87.6,288 L87.6,301.6 L102,301.6" stroke="#303030" stroke-width="0.9" fill="none" />
<path d="M88,299.5 C88.33,298.92 89,297.05 90,296 C91,294.95 92.5,293.9 94,293.2 C95.5,292.5 97,292.1 99,291.8 C101,291.5 102.73,291.5 106,291.4 C109.27,291.3 116.5,291.23 118.6,291.2" stroke="#303030" stroke-width="0.8" fill="none" />
<path d="M88,299.8 C88.83,299.67 91.33,299.23 93,299 C94.67,298.77 96.5,298.53 98,298.4 C99.5,298.27 101.33,298.23 102,298.2" stroke="#303030" stroke-width="0.7" fill="none" />
<path d="M89,301 C90,300.83 93,300.27 95,300 C97,299.73 100,299.5 101,299.4" stroke="#303030" stroke-width="0.6" fill="none" />
<line x1="101.4" y1="291.6" x2="101.4" y2="298.5" stroke="#303030" stroke-width="0.6" />
<path d="M102,298.4 L115,298.2 L118.6,297" stroke="#303030" stroke-width="0.7" fill="none" />
<path d="M105,298.4 L105,313 L106.4,313 L106.4,316.6 L119.6,316.6 L119.6,291.5" stroke="#303030" stroke-width="0.8" fill="none" />
<line x1="107.6" y1="299" x2="107.6" y2="313" stroke="#303030" stroke-width="0.7" />
<line x1="106.4" y1="313" x2="119.6" y2="313" stroke="#303030" stroke-width="0.7" />
<line x1="113" y1="299" x2="113" y2="313" stroke="#303030" stroke-width="0.6" />
<line x1="115.6" y1="299" x2="115.6" y2="313" stroke="#303030" stroke-width="0.6" />
<rect x="115.6" y="308" width="3.4" height="2.6" stroke="#303030" stroke-width="0.6" fill="none" rx="0"/>
<path d="M130,263.4 C129.5,264 127.9,265.5 127,267 C126.1,268.5 125.1,270.5 124.6,272.4 C124.1,274.3 124,276 124,278.4 C124,280.8 124.3,284.4 124.6,286.8 C124.9,289.2 125.1,291 125.8,292.8 C126.5,294.6 127.6,296.47 128.8,297.6 C130,298.73 132.3,299.27 133,299.6" stroke="#303030" stroke-width="0.8" fill="none" />
<path d="M134.2,264.4 C133.7,265.23 131.9,267.47 131.2,269.4 C130.5,271.33 130.2,273.9 130,276 C129.8,278.1 129.9,279.8 130,282 C130.1,284.2 130.2,287 130.6,289.2 C131,291.4 131.5,293.7 132.4,295.2 C133.3,296.7 135.4,297.7 136,298.2" stroke="#303030" stroke-width="0.8" fill="none" />
<path d="M131.2,271.8 C131.67,271.27 132.93,269.6 134,268.6 C135.07,267.6 137,266.27 137.6,265.8" stroke="#1c1c1c" stroke-width="1.2" fill="none" />
<path d="M139,268.8 C139.23,268.47 139.83,267.4 140.4,266.8 C140.97,266.2 142.07,265.47 142.4,265.2" stroke="#303030" stroke-width="0.8" fill="none" />
<path d="M133,294 C133.23,294.37 133.83,295.57 134.4,296.2 C134.97,296.83 136.07,297.53 136.4,297.8" stroke="#1c1c1c" stroke-width="1.2" fill="none" />
<rect x="125.2" y="282.4" width="3.6" height="4.6" stroke="#303030" stroke-width="0.7" fill="none" rx="0"/>
<line x1="120.2" y1="268" x2="125" y2="268" stroke="#303030" stroke-width="0.6" />
<line x1="120.2" y1="291.4" x2="125.4" y2="291.4" stroke="#303030" stroke-width="0.6" />
<path d="M119.6,296.4 L127.5,298.4" stroke="#303030" stroke-width="0.6" fill="none" />
<line x1="129.6" y1="300.6" x2="150.4" y2="300.6" stroke="#303030" stroke-width="0.9" />
<rect x="127.5" y="298.4" width="2" height="17" fill="#ececec" stroke="none"/>
<line x1="127.5" y1="298.4" x2="127.5" y2="315.4" stroke="#505050" stroke-width="0.7" />
<line x1="129.5" y1="298.4" x2="129.5" y2="315.4" stroke="#505050" stroke-width="0.7" />
<line x1="127.5" y1="315.6" x2="129.5" y2="315.6" stroke="#303030" stroke-width="0.8" />
<path d="M487.2,262.3 L481.8,262.3 Q479.8,262.3 479.8,264.3 L479.8,300 Q479.8,302 481.8,302 L486.6,302 L486.6,298.6" stroke="#303030" stroke-width="0.9" fill="none" />
<line x1="484.6" y1="266" x2="484.6" y2="299" stroke="#303030" stroke-width="0.6" />
<rect x="484.2" y="262.4" width="3.2" height="3.9" fill="#222"/>
<rect x="484.3" y="275.7" width="2.2" height="2.8" fill="#222"/>
<rect x="484.3" y="285.7" width="2.2" height="2.8" fill="#222"/>
<line x1="487" y1="265.6" x2="493" y2="265.6" stroke="#222" stroke-width="1.0" />
<rect x="486" y="298" width="2.6" height="3" stroke="#303030" stroke-width="0.7" fill="none" rx="0"/>
<rect x="487" y="276.5" width="44" height="1.2" fill="#999" stroke="none"/>
<line x1="487" y1="276.5" x2="531" y2="276.5" stroke="#555" stroke-width="0.7" />
<line x1="487" y1="277.7" x2="531" y2="277.7" stroke="#555" stroke-width="0.7" />
<rect x="487" y="286.4" width="85.6" height="1.2" fill="#999" stroke="none"/>
<line x1="487" y1="286.4" x2="572.6" y2="286.4" stroke="#4a4a4a" stroke-width="0.75" />
<line x1="487" y1="287.6" x2="572.6" y2="287.6" stroke="#4a4a4a" stroke-width="0.75" />
<line x1="487.7" y1="263.3" x2="487.7" y2="300.5" stroke="#303030" stroke-width="0.7" />
<rect x="492.8" y="263.3" width="2" height="37.2" fill="#ececec" stroke="none"/>
<line x1="492.8" y1="263.3" x2="492.8" y2="300.5" stroke="#505050" stroke-width="0.7" />
<line x1="494.8" y1="263.3" x2="494.8" y2="300.5" stroke="#505050" stroke-width="0.7" />
<rect x="499.4" y="263.3" width="2" height="37.2" fill="#ececec" stroke="none"/>
<line x1="499.4" y1="263.3" x2="499.4" y2="300.5" stroke="#505050" stroke-width="0.7" />
<line x1="501.4" y1="263.3" x2="501.4" y2="300.5" stroke="#505050" stroke-width="0.7" />
<rect x="515.6" y="263.8" width="2" height="36.2" fill="#ececec" stroke="none"/>
<line x1="515.6" y1="263.8" x2="515.6" y2="300" stroke="#505050" stroke-width="0.7" />
<line x1="517.6" y1="263.8" x2="517.6" y2="300" stroke="#505050" stroke-width="0.7" />
<line x1="507.4" y1="266" x2="507.4" y2="298" stroke="#303030" stroke-width="0.6" />
<line x1="487" y1="263.3" x2="534" y2="263.3" stroke="#303030" stroke-width="0.9" />
<path d="M534,263.3 C535.17,263.35 538.83,263.45 541,263.6 C543.17,263.75 545.17,263.8 547,264.2 C548.83,264.6 550.42,265.13 552,266 C553.58,266.87 555.07,268.07 556.5,269.4 C557.93,270.73 559.25,272.33 560.6,274 C561.95,275.67 563.37,277.73 564.6,279.4 C565.83,281.07 567.17,282.83 568,284 C568.83,285.17 569.33,286 569.6,286.4" stroke="#303030" stroke-width="0.9" fill="none" />
<path d="M538,269.6 C539.17,269.57 543,269.27 545,269.4 C547,269.53 548.4,269.87 550,270.4 C551.6,270.93 553.2,271.6 554.6,272.6 C556,273.6 557.23,275 558.4,276.4 C559.57,277.8 560.57,279.4 561.6,281 C562.63,282.6 564.1,285.17 564.6,286" stroke="#303030" stroke-width="0.7" fill="none" />
<path d="M555,273 C555.23,273.67 555.9,275.5 556.4,277 C556.9,278.5 557.57,280.5 558,282 C558.43,283.5 558.83,285.33 559,286" stroke="#303030" stroke-width="0.7" fill="none" />
<line x1="555" y1="273" x2="555" y2="286" stroke="#303030" stroke-width="0.7" />
<line x1="543.6" y1="269.6" x2="543.6" y2="286" stroke="#303030" stroke-width="0.8" />
<path d="M520,265 C521,265.03 524.17,264.93 526,265.2 C527.83,265.47 529.5,265.97 531,266.6 C532.5,267.23 533.83,268.17 535,269 C536.17,269.83 537.5,271.17 538,271.6" stroke="#222" stroke-width="1.0" fill="none" />
<path d="M538,271.6 C537,271.5 534,271.2 532,271 C530,270.8 528,270.63 526,270.4 C524,270.17 521,269.73 520,269.6" stroke="#303030" stroke-width="0.7" fill="none" />
<path d="M527,270.6 L527,283.6 L520,283.6" stroke="#303030" stroke-width="0.7" fill="none" />
<path d="M527,280.4 C528,280.57 531.17,281.03 533,281.4 C534.83,281.77 536.23,282.17 538,282.6 C539.77,283.03 542.67,283.77 543.6,284" stroke="#303030" stroke-width="0.6" fill="none" />
<line x1="520" y1="277.1" x2="531" y2="277.1" stroke="#666" stroke-width="1.6" />
<line x1="496.2" y1="263.6" x2="496.2" y2="300.4" stroke="#303030" stroke-width="0.6" />
<path d="M487,266.4 L492.8,266.4" stroke="#303030" stroke-width="0.7" fill="none" />
<path d="M487,297.6 L492.8,297.6" stroke="#303030" stroke-width="0.7" fill="none" />
<path d="M493.8,265.2 C494.45,265.67 496.38,267.17 497.7,268 C499.02,268.83 501.03,269.83 501.7,270.2" stroke="#222" stroke-width="1.1" fill="none" />
<path d="M494.8,269 C495.57,268.93 498.63,268.67 499.4,268.6" stroke="#303030" stroke-width="0.6" fill="none" />
<path d="M501.7,264.6 C502.25,265 504.07,266.07 505,267 C505.93,267.93 506.73,268.92 507.3,270.2 C507.87,271.48 508.22,273.95 508.4,274.7" stroke="#303030" stroke-width="0.8" fill="none" />
<path d="M504,264.4 C504.83,264.62 507.6,264.93 509,265.7 C510.4,266.47 511.73,268.05 512.4,269 C513.07,269.95 512.9,271 513,271.4" stroke="#303030" stroke-width="0.8" fill="none" />
<path d="M506.2,268.5 L513,271.4" stroke="#303030" stroke-width="0.7" fill="none" />
<path d="M501.7,270.2 C502.45,270.4 505.17,270.65 506.2,271.4 C507.23,272.15 507.53,273.1 507.9,274.7 C508.27,276.3 508.32,278.95 508.4,281 C508.48,283.05 508.58,285.05 508.4,287 C508.22,288.95 507.95,291.28 507.3,292.7 C506.65,294.12 505.47,294.83 504.5,295.5 C503.53,296.17 502,296.5 501.5,296.7" stroke="#303030" stroke-width="0.8" fill="none" />
<path d="M503.6,289 C503.5,289.67 503.33,291.83 503,293 C502.67,294.17 501.83,295.5 501.6,296" stroke="#303030" stroke-width="0.6" fill="none" />
<line x1="509.5" y1="277.1" x2="515.6" y2="277.1" stroke="#777" stroke-width="1.4" />
<line x1="570.5" y1="288" x2="570.5" y2="322" stroke="#303030" stroke-width="0.9" />
<line x1="535" y1="299.6" x2="535" y2="322" stroke="#303030" stroke-width="0.9" />
<path d="M535,322.4 L570.5,322.4" stroke="#303030" stroke-width="1.4" fill="none" />
<path d="M535,322.2 Q534,322.6 534,324.4 Q534,326.6 536,326.6 L569.6,326.6 Q571.8,326.6 571.8,324.4 Q571.8,322.6 570.5,322.2" stroke="#303030" stroke-width="0.8" fill="none" />
<rect x="547" y="306.4" width="12" height="2.6" stroke="#333" stroke-width="0.7" fill="#888" rx="1.3"/>
<path d="M550,288 C549.97,288.67 550.2,290.83 549.8,292 C549.4,293.17 548.73,294.1 547.6,295 C546.47,295.9 544.6,296.73 543,297.4 C541.4,298.07 539.33,298.63 538,299 C536.67,299.37 535.5,299.5 535,299.6" stroke="#303030" stroke-width="0.8" fill="none" />
<path d="M548,294.8 C547.27,295.23 545,296.57 543.6,297.4 C542.2,298.23 540.6,299.1 539.6,299.8 C538.6,300.5 537.93,301.3 537.6,301.6" stroke="#303030" stroke-width="0.7" fill="none" />
<path d="M535,299.6 C535.17,299.9 535.57,301.07 536,301.4 C536.43,301.73 537.33,301.57 537.6,301.6" stroke="#303030" stroke-width="0.7" fill="none" />
<path d="M517.6,293 L548.6,293" stroke="#303030" stroke-width="0.6" fill="none" />
<path d="M517.6,298.8 L535,298.8" stroke="#303030" stroke-width="0.7" fill="none" />
<path d="M518.6,298.8 L518.6,316.6 L531,316.6 L531,298.8" stroke="#303030" stroke-width="0.8" fill="none" />
<line x1="518.6" y1="313" x2="531" y2="313" stroke="#303030" stroke-width="0.7" />
<line x1="522.4" y1="299" x2="522.4" y2="313" stroke="#303030" stroke-width="0.7" />
<line x1="524.6" y1="299" x2="524.6" y2="313" stroke="#303030" stroke-width="0.7" />
<line x1="529.8" y1="299" x2="529.8" y2="313" stroke="#303030" stroke-width="0.6" />
<line x1="486.6" y1="300.6" x2="507.5" y2="300.6" stroke="#303030" stroke-width="0.9" />
<path d="M489,298.6 C490.17,298.5 493.83,298.37 496,298 C498.17,297.63 500.33,297.13 502,296.4 C503.67,295.67 505.08,294.5 506,293.6 C506.92,292.7 507.25,291.43 507.5,291" stroke="#303030" stroke-width="0.6" fill="none" />
<rect x="507.5" y="288" width="2" height="27.4" fill="#ececec" stroke="none"/>
<line x1="507.5" y1="288" x2="507.5" y2="315.4" stroke="#505050" stroke-width="0.7" />
<line x1="509.5" y1="288" x2="509.5" y2="315.4" stroke="#505050" stroke-width="0.7" />
<line x1="507.5" y1="315.6" x2="509.5" y2="315.6" stroke="#303030" stroke-width="0.8" />
<line x1="509.5" y1="300" x2="518.6" y2="300" stroke="#303030" stroke-width="0.7" />
</svg>
</body></html>
